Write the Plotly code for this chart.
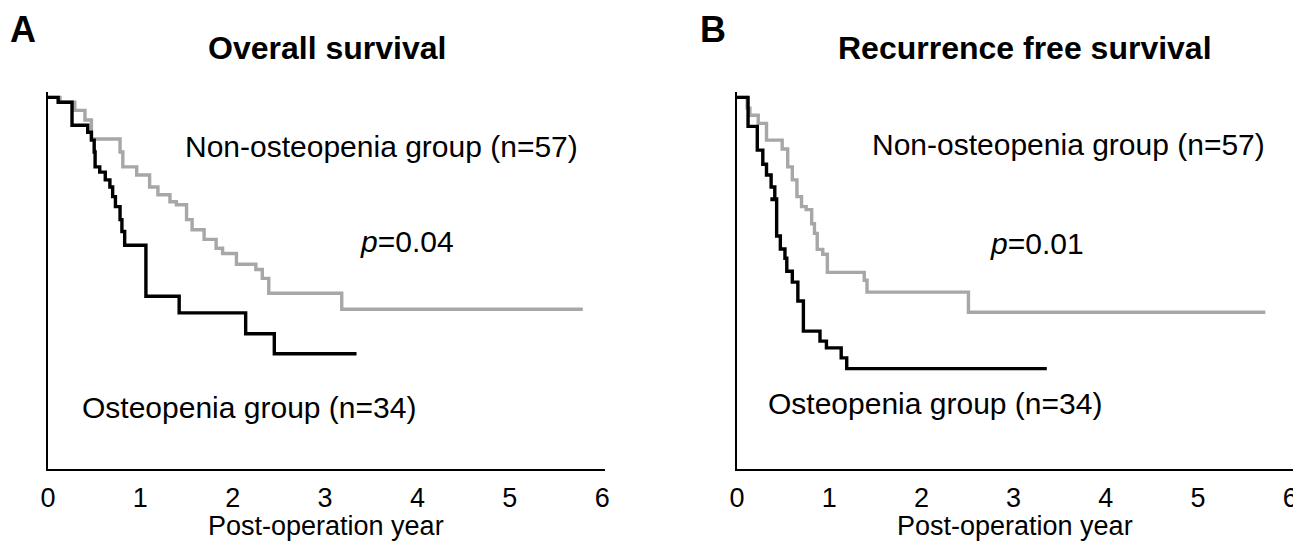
import plotly.graph_objects as go

# The page adds an 8 px body margin around the figure; the figure is sized and
# positioned so that it fills the 1301x549 window exactly.
SCREEN_W, SCREEN_H = 1301, 549
OFF = 8
W, H = SCREEN_W - 2 * OFF, SCREEN_H - 2 * OFF

# ---- data (years, survival proportion) ----
os_non_t = [0, 0.13, 0.29, 0.40, 0.47, 0.78, 0.81, 0.96, 1.10, 1.19, 1.32, 1.39, 1.50, 1.56, 1.69, 1.82, 1.89, 2.04, 2.25, 2.32, 2.39, 3.18, 5.79]
os_non_s = [1.0, 0.987, 0.965, 0.939, 0.888, 0.853, 0.813, 0.791, 0.759, 0.738, 0.719, 0.711, 0.671, 0.644, 0.618, 0.594, 0.580, 0.551, 0.537, 0.513, 0.473, 0.430, 0.430]

os_ost_t = [0, 0.11, 0.26, 0.43, 0.47, 0.50, 0.51, 0.56, 0.62, 0.67, 0.70, 0.73, 0.78, 0.80, 0.83, 1.06, 1.42, 2.14, 2.45, 3.34]
os_ost_s = [1.0, 0.987, 0.925, 0.906, 0.885, 0.853, 0.813, 0.799, 0.778, 0.759, 0.733, 0.706, 0.671, 0.639, 0.602, 0.465, 0.420, 0.364, 0.310, 0.310]

rfs_non_t = [0, 0.11, 0.14, 0.23, 0.32, 0.35, 0.49, 0.55, 0.60, 0.65, 0.70, 0.75, 0.81, 0.84, 0.87, 0.93, 0.98, 1.04, 1.38, 1.41, 1.47, 2.51, 5.73]
rfs_non_s = [1.0, 0.971, 0.952, 0.930, 0.885, 0.885, 0.861, 0.813, 0.778, 0.733, 0.706, 0.698, 0.660, 0.634, 0.591, 0.578, 0.529, 0.529, 0.508, 0.476, 0.476, 0.422, 0.422]

rfs_ost_t = [0, 0.12, 0.22, 0.28, 0.32, 0.37, 0.41, 0.38, 0.43, 0.47, 0.52, 0.54, 0.60, 0.66, 0.72, 0.90, 0.97, 1.13, 1.19, 3.36]
rfs_ost_s = [1.0, 0.922, 0.858, 0.820, 0.791, 0.759, 0.725, 0.727, 0.627, 0.592, 0.567, 0.532, 0.503, 0.452, 0.371, 0.344, 0.326, 0.299, 0.270, 0.270]

x_ticks = [0, 1, 2, 3, 4, 5, 6]
x_title = "Post-operation year"

GRAY = "#a7a7a7"
BLACK = "#000000"

fig = go.Figure()
fig.add_trace(go.Scatter(x=os_non_t, y=os_non_s, mode="lines", line=dict(shape="hv", color=GRAY, width=3.4), xaxis="x", yaxis="y"))
fig.add_trace(go.Scatter(x=os_ost_t, y=os_ost_s, mode="lines", line=dict(shape="hv", color=BLACK, width=3.4), xaxis="x", yaxis="y"))
fig.add_trace(go.Scatter(x=rfs_non_t, y=rfs_non_s, mode="lines", line=dict(shape="hv", color=GRAY, width=3.4), xaxis="x2", yaxis="y2"))
fig.add_trace(go.Scatter(x=rfs_ost_t, y=rfs_ost_s, mode="lines", line=dict(shape="hv", color=BLACK, width=3.4), xaxis="x2", yaxis="y2"))

def px(x):
    # screen x -> paper fraction
    return (x - OFF) / W

def py(y):
    # screen y -> paper fraction
    return (H - (y - OFF)) / H

FONT = "Liberation Sans, Arial, sans-serif"
ydom = [py(469), py(92)]

xcommon = dict(range=[0, 6.03], tickvals=x_ticks, ticktext=[str(v) for v in x_ticks], showline=True, linecolor="black", linewidth=2,
               showgrid=False, zeroline=False, ticks="", tickfont=dict(size=27, family=FONT, color="black"),
               ticklabelstandoff=4, ticklabeloverflow="allow", automargin=False)
ycommon = dict(range=[0, 1.0145], showline=True, linecolor="black", linewidth=2, showgrid=False, zeroline=False,
               showticklabels=False, ticks="", domain=ydom, automargin=False)

fig.update_layout(
    width=W, height=H,
    margin=dict(l=0, r=0, t=0, b=0, autoexpand=False),
    paper_bgcolor="white", plot_bgcolor="white",
    showlegend=False,
    xaxis={**xcommon, "domain": [px(48), px(605)], "anchor": "y"},
    yaxis={**ycommon, "anchor": "x"},
    xaxis2={**xcommon, "domain": [px(737), px(1293)], "anchor": "y2"},
    yaxis2={**ycommon, "anchor": "x2"},
)

ann = []
def T(text, x, y, size=30, bold=False, xanchor="center"):
    ann.append(dict(text=f"<b>{text}</b>" if bold else text, x=px(x), y=py(y), xref="paper", yref="paper",
                    showarrow=False, xanchor=xanchor, yanchor="middle", font=dict(size=size, family=FONT, color="black")))

T("A", 8, 29, size=36, bold=True, xanchor="left")
T("B", 698, 29, size=36, bold=True, xanchor="left")
T("Overall survival", 327, 48, size=32, bold=True)
T("Recurrence free survival", 1025, 48, size=32, bold=True)
T("Non-osteopenia group (n=57)", 183, 146, xanchor="left")
T("<i>p</i>=0.04", 358, 241, xanchor="left")
T("Osteopenia group (n=34)", 80, 407, xanchor="left")
T("Non-osteopenia group (n=57)", 870, 144, xanchor="left")
T("<i>p</i>=0.01", 988, 243, xanchor="left")
T("Osteopenia group (n=34)", 766, 403, xanchor="left")
T(x_title, 326, 526, size=27)
T(x_title, 1015, 526, size=27)
fig.update_layout(annotations=ann)

fig.write_html("out.html")
